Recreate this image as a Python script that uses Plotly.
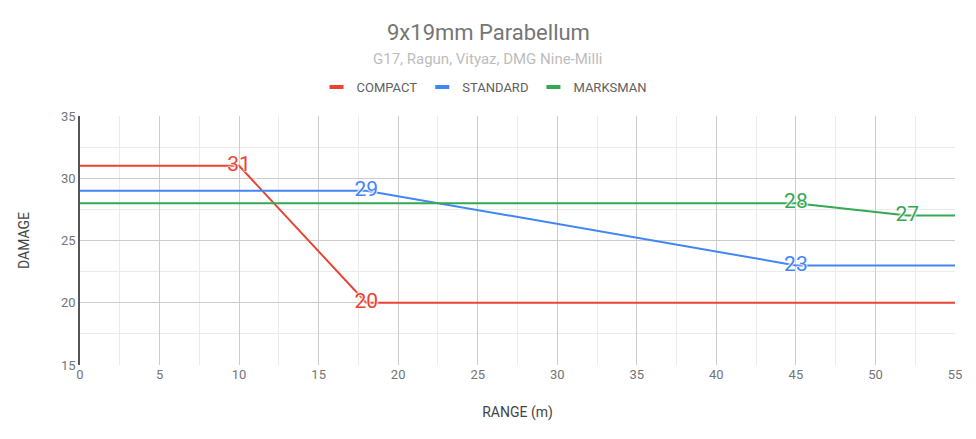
import plotly.graph_objects as go

title = "9x19mm Parabellum"
subtitle = "G17, Ragun, Vityaz, DMG Nine-Milli"

compact_x = [0, 10, 18, 55]
compact_y = [31, 31, 20, 20]
compact_lbl = ["", "31", "20", ""]

standard_x = [0, 18, 45, 55]
standard_y = [29, 29, 23, 23]
standard_lbl = ["", "29", "23", ""]

marksman_x = [0, 45, 52, 55]
marksman_y = [28, 28, 27, 27]
marksman_lbl = ["", "28", "27", ""]

series = [
    ("COMPACT", compact_x, compact_y, compact_lbl, "#ea4335"),
    ("STANDARD", standard_x, standard_y, standard_lbl, "#4285f4"),
    ("MARKSMAN", marksman_x, marksman_y, marksman_lbl, "#34a853"),
]

FONT = "Roboto, Arial, sans-serif"
halo = "0 0 2px #fff, 0 0 2px #fff, 0 0 2px #fff, 0 0 2px #fff"

fig = go.Figure()
for name, xs, ys, lbl, col in series:
    fig.add_trace(go.Scatter(
        x=xs, y=ys, name=name, mode="lines+text", text=lbl,
        textposition="middle center",
        textfont=dict(family=FONT, size=21, color=col, shadow=halo),
        line=dict(color=col, width=2),
        cliponaxis=False, showlegend=False, hoverinfo="skip",
    ))
    # legend entry (short thick bar like the reference)
    fig.add_trace(go.Scatter(
        x=[None], y=[None], name=name, mode="markers",
        marker=dict(symbol="line-ew", size=10, line=dict(color=col, width=4)),
        showlegend=True,
    ))

W, H = 976, 439
ML, MR, MT, MB = 80, 21, 116, 74
h_plot = H - MT - MB
w_plot = W - ML - MR
def py(pix):
    return (H - MB - pix) / h_plot
def px(pix):
    return (pix - ML) / w_plot

fig.update_layout(
    width=W, height=H,
    margin=dict(l=ML, r=MR, t=MT, b=MB),
    paper_bgcolor="white", plot_bgcolor="white",
    font=dict(family=FONT, size=13, color="#757575"),
    showlegend=True,
    legend=dict(orientation="h", x=px(484), xref="paper", xanchor="center",
                y=py(87), yanchor="middle",
                font=dict(size=13, color="#616161"), itemwidth=30,
                traceorder="normal", itemclick=False),
    annotations=[
        dict(text=title, x=px(488), xref="paper", xanchor="center", y=py(32),
             yref="paper", yanchor="middle",
             showarrow=False, font=dict(size=22, color="#757575", family=FONT)),
        dict(text=subtitle, x=px(487), xref="paper", xanchor="center", y=py(59),
             yref="paper", yanchor="middle",
             showarrow=False, font=dict(size=15, color="#bdbdbd", family=FONT)),
    ],
)

fig.update_xaxes(
    range=[0, 55], dtick=5, tick0=0,
    showgrid=True, gridcolor="#cccccc", gridwidth=1,
    minor=dict(dtick=2.5, showgrid=True, gridcolor="#ebebeb", gridwidth=1),
    zeroline=False, showline=False, automargin=False,
    ticks="", tickfont=dict(size=13, color="#757575"),
    title=dict(text="RANGE (m)", font=dict(size=14, color="#444444"), standoff=26),
)
fig.update_yaxes(
    range=[15, 35], dtick=5, tick0=15,
    showgrid=True, gridcolor="#cccccc", gridwidth=1,
    minor=dict(dtick=2.5, showgrid=True, gridcolor="#ebebeb", gridwidth=1),
    zeroline=False, showline=True, linecolor="#555555", linewidth=1.5,
    ticks="", tickfont=dict(size=13, color="#757575"), automargin=False,
    title=dict(text="DAMAGE", font=dict(size=14, color="#444444"), standoff=28),
)

fig.write_html("out.html", config={"displayModeBar": False},
               post_script="document.body.style.margin='0';")
